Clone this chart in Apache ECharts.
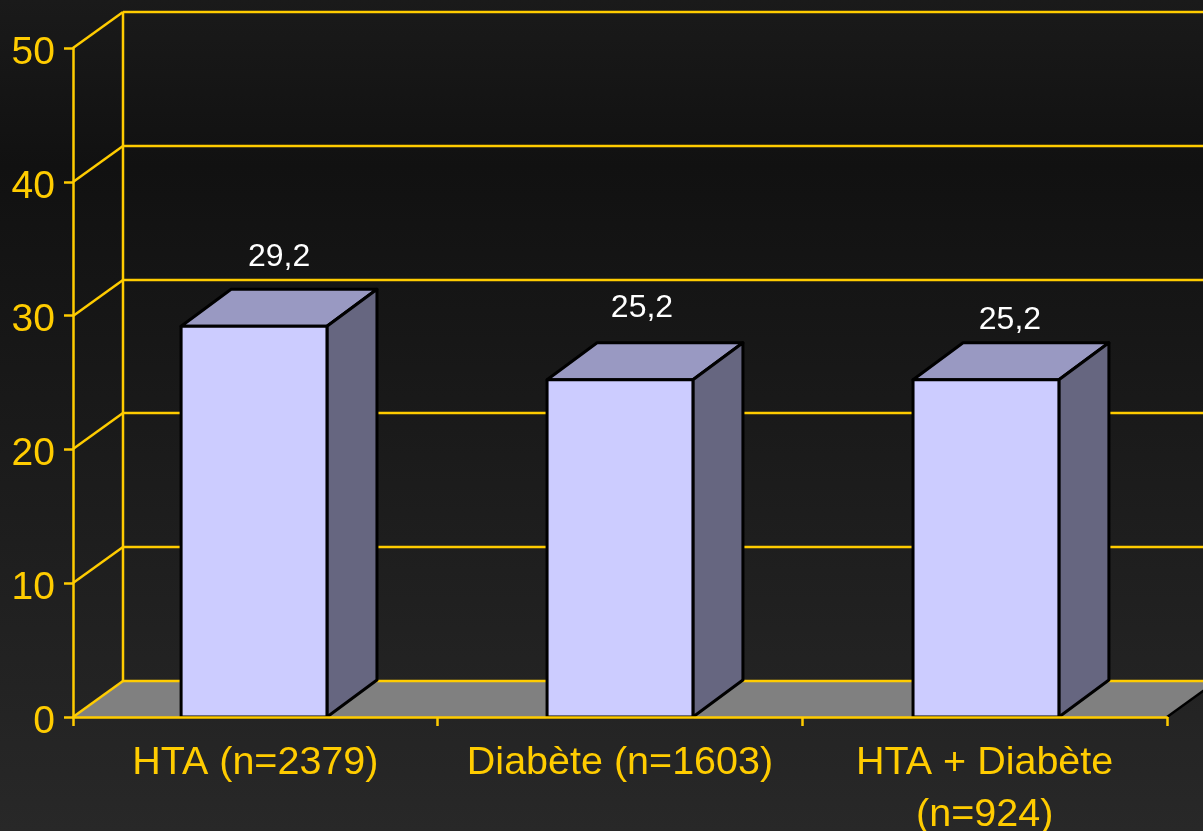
<!DOCTYPE html>
<html>
<head>
<meta charset="utf-8">
<style>
    html, body { margin: 0; padding: 0; background: #222; overflow: hidden; }
    #bar-1 { width: 1203px; height: 831px; }
</style>
<script src="https://cdn.jsdelivr.net/npm/echarts@6/dist/echarts.min.js"></script>
</head>
<body>
<div id="bar-1"></div>
<script>
let categories = ['HTA (n=2379)', 'Diabète (n=1603)', 'HTA + Diabète\n(n=924)'];
let values = [29.2, 25.2, 25.2];
let valueLabels = ['29,2', '25,2', '25,2'];
let yTicks = [0, 10, 20, 30, 40, 50];

// fake 3d: how far the back wall sits from the front plane
let depthX = 50;
let depthY = 36;
let yellow = '#ffcc00';
// the data labels are placed by hand in the original, [dx, dy] from the bar top centre
let labelNudge = [[25, -69], [22, -72], [24, -60]];
// bars in the original are a touch further apart than the axis bands
let barShift = [-1.3, 0, 1.3];

let myChart = echarts.init(document.getElementById('bar-1'));

function line(x1, y1, x2, y2, color, width) {
    return {
        type: 'line',
        shape: {x1: x1, y1: y1, x2: x2, y2: y2},
        style: {stroke: color, lineWidth: width}
    };
}

function renderFloor(params, api) {
    let box = params.coordSys;
    let y0 = api.coord([0, 0])[1];
    let y50 = api.coord([0, yTicks[yTicks.length - 1]])[1];
    let left = box.x;
    let right = box.x + box.width;
    return {
        type: 'group',
        children: [
            {
                type: 'polygon',
                shape: {points: [
                    [left, y0],
                    [left + depthX, y0 - depthY],
                    [right + depthX, y0 - depthY],
                    [right, y0]
                ]},
                style: {fill: '#808080'}
            },
            line(right, y0, right + depthX, y0 - depthY, '#000', 2.5),
            line(left + depthX, y0 - depthY, left + depthX, y50 - depthY, yellow, 2.5)
        ]
    };
}

function renderWall(params, api) {
    let box = params.coordSys;
    let y = Math.round(api.coord([0, api.value(0)])[1]);
    let left = box.x;
    return {
        type: 'group',
        children: [
            line(left, y, left + depthX, y - depthY, yellow, 2.5),
            line(left + depthX, y - depthY, left + box.width + depthX, y - depthY, yellow, 2.5)
        ]
    };
}

function renderBar(params, api) {
    let idx = api.value(0);
    let top = api.coord([idx, api.value(1)]);
    let bottom = api.coord([idx, 0]);
    let w = api.size([1, 0])[0] * 0.4;
    let cx = top[0] + barShift[idx];
    let x1 = cx - w / 2;
    let x2 = cx + w / 2;
    let dx = depthX;
    let dy = depthY + 1;
    let edge = {stroke: '#000', lineWidth: 3, lineJoin: 'round'};
    return {
        type: 'group',
        children: [
            {
                type: 'polygon',
                shape: {points: [[x1, top[1]], [x1 + dx, top[1] - dy], [x2 + dx, top[1] - dy], [x2, top[1]]]},
                style: Object.assign({fill: '#9999c2'}, edge)
            },
            {
                type: 'polygon',
                shape: {points: [[x2, top[1]], [x2 + dx, top[1] - dy], [x2 + dx, bottom[1] - dy], [x2, bottom[1]]]},
                style: Object.assign({fill: '#666680'}, edge)
            },
            {
                type: 'rect',
                shape: {x: x1, y: top[1], width: w, height: bottom[1] - top[1]},
                style: Object.assign({fill: '#ccccff'}, edge)
            },
            {
                type: 'text',
                x: cx + labelNudge[idx][0],
                y: top[1] + labelNudge[idx][1],
                style: {
                    text: valueLabels[idx],
                    fill: '#fff',
                    font: '32px "Liberation Sans", Arial, sans-serif',
                    align: 'center',
                    verticalAlign: 'middle'
                }
            }
        ]
    };
}

option = {
    animation: false,
    backgroundColor: new echarts.graphic.LinearGradient(0, 0, 0, 1, [
        {offset: 0, color: '#1a1a1a'},
        {offset: 0.2, color: '#111111'},
        {offset: 1, color: '#282828'}
    ]),
    grid: {left: 73, right: 36, top: 48, bottom: 114, outerBoundsMode: 'none'},
    xAxis: {
        type: 'category',
        data: categories,
        z: 5,
        axisLine: {lineStyle: {color: yellow, width: 2.5}},
        axisTick: {show: true, alignWithLabel: false, length: 9, lineStyle: {color: yellow, width: 2.5}},
        axisLabel: {
            color: yellow,
            fontFamily: '"Liberation Sans", Arial, sans-serif',
            fontSize: 39.5,
            lineHeight: 52,
            margin: 20,
            interval: 0
        }
    },
    yAxis: {
        type: 'value',
        min: 0,
        max: 50,
        interval: 10,
        z: 5,
        splitLine: {show: false},
        axisLine: {show: true, lineStyle: {color: yellow, width: 2.5}},
        axisTick: {show: true, length: 9, lineStyle: {color: yellow, width: 2.5}},
        axisLabel: {
            color: yellow,
            fontFamily: '"Liberation Sans", Arial, sans-serif',
            fontSize: 39,
            margin: 18,
            verticalAlign: 'top',
            lineHeight: 10
        }
    },
    series: [
        {type: 'custom', z: 1, silent: true, renderItem: renderFloor, data: [0]},
        {type: 'custom', z: 2, silent: true, renderItem: renderWall, data: yTicks.map(function (t) { return [t]; })},
        {
            type: 'custom',
            z: 3,
            silent: true,
            renderItem: renderBar,
            encode: {x: 0, y: 1},
            data: values.map(function (v, i) { return [i, v]; })
        }
    ]
};

myChart.setOption(option);
</script>
</body>
</html>
